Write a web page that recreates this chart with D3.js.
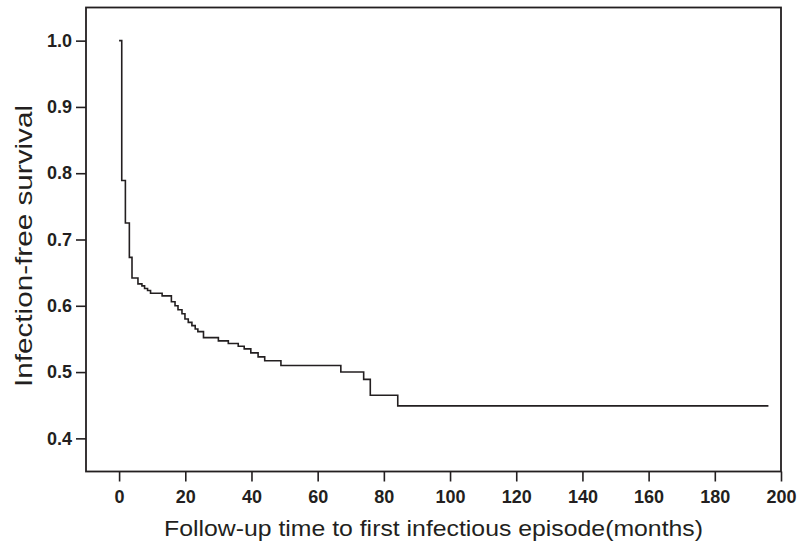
<!DOCTYPE html>
<html>
<head>
<meta charset="utf-8">
<script src="https://cdn.jsdelivr.net/npm/d3@7"></script>
<style>
  body { margin: 0; background: #fff; }
  svg { display: block; font-family: "Liberation Sans", Arial, sans-serif; }
</style>
</head>
<body>
<svg id="chart" width="797" height="542"></svg>
<script>
// step times (months) and survival right after each drop
const eventTimes = [0.8, 1.9, 3.1, 3.9, 5.7, 6.9, 7.7, 8.6, 9.5, 13.0, 15.8, 16.9, 17.8, 19.0, 19.9,
  20.9, 22.0, 23.0, 23.8, 25.5, 30.0, 33.0, 36.0, 37.8, 39.8, 42.0, 44.0, 48.9, 67.0, 73.9, 75.9, 84.2]
const survival = [0.789, 0.725, 0.673, 0.642, 0.633, 0.630, 0.626, 0.623, 0.619, 0.615, 0.606, 0.600, 0.594, 0.588, 0.580,
  0.575, 0.570, 0.565, 0.561, 0.552, 0.547, 0.543, 0.539, 0.535, 0.529, 0.523, 0.517, 0.510, 0.500, 0.489, 0.465, 0.449]
const lastFollowUp = 196.2
const xTicks = [0, 20, 40, 60, 80, 100, 120, 140, 160, 180, 200]
const yTicks = [0.4, 0.5, 0.6, 0.7, 0.8, 0.9, 1.0]

const svg = d3.select("#chart")
const plotLeft = 86, plotRight = 781, plotTop = 7.5, plotBottom = 471.5
const ink = "#231f20"

const x = d3.scaleLinear().domain([-10, 200]).range([plotLeft, plotRight])
const y = d3.scaleLinear().domain([0.35, 1.05]).range([plotBottom, plotTop])

// curve points
let pts = [[0, 1.0]]
for (let i = 0; i < eventTimes.length; i++) {
  pts.push([eventTimes[i], survival[i]])
}
pts.push([lastFollowUp, survival[survival.length - 1]])

const line = d3.line()
  .x(d => x(d[0]))
  .y(d => y(d[1]))
  .curve(d3.curveStepAfter)

svg.append("path")
  .datum(pts)
  .attr("d", line)
  .attr("fill", "none")
  .attr("stroke", ink)
  .attr("stroke-width", 1.6)

// axes
const xAxis = svg.append("g")
  .attr("transform", "translate(0," + plotBottom + ")")
  .call(d3.axisBottom(x).tickValues(xTicks).tickSize(10).tickPadding(9).tickFormat(d3.format("d")))
const yAxis = svg.append("g")
  .attr("transform", "translate(" + plotLeft + ",0)")
  .call(d3.axisLeft(y).tickValues(yTicks).tickSize(10).tickPadding(4).tickFormat(d3.format(".1f")))

for (const ax of [xAxis, yAxis]) {
  ax.select(".domain").remove()
  ax.selectAll("line").attr("stroke", ink).attr("stroke-width", 1.6)
  ax.selectAll("text")
    .attr("fill", ink)
    .style("font-size", "18px")
    .style("font-weight", "bold")
    .style("font-family", "'Liberation Sans', Arial, sans-serif")
}

// frame
svg.append("rect")
  .attr("x", plotLeft).attr("y", plotTop)
  .attr("width", plotRight - plotLeft).attr("height", plotBottom - plotTop)
  .attr("fill", "none")
  .attr("stroke", ink)
  .attr("stroke-width", 1.8)

// titles
svg.append("text")
  .attr("x", (plotLeft + plotRight) / 2)
  .attr("y", 535.5)
  .attr("text-anchor", "middle")
  .attr("fill", ink)
  .attr("textLength", 539)
  .attr("lengthAdjust", "spacingAndGlyphs")
  .style("font-size", "22px")
  .text("Follow-up time to first infectious episode(months)")

svg.append("text")
  .attr("transform", "translate(32,246) rotate(-90)")
  .attr("text-anchor", "middle")
  .attr("fill", ink)
  .attr("textLength", 282)
  .attr("lengthAdjust", "spacingAndGlyphs")
  .style("font-size", "24px")
  .text("Infection-free survival")
</script>
</body>
</html>
